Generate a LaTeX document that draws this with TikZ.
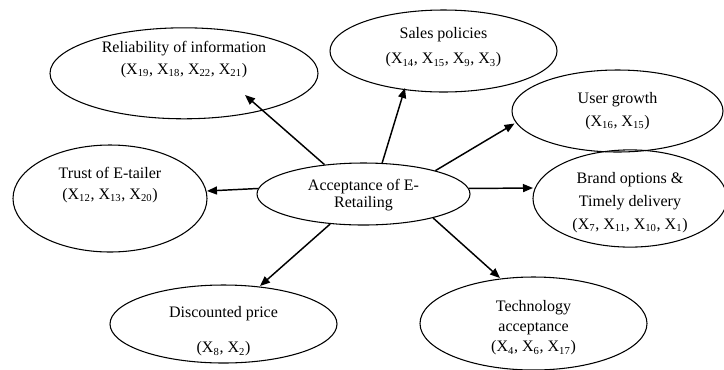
\documentclass[tikz,border=0pt]{standalone}
\usepackage{fontspec}
\setmainfont{Liberation Serif}
\usetikzlibrary{calc,arrows.meta,shapes.geometric}
\newcommand{\Xv}[1]{X\textsubscript{#1}}
\tikzset{
  factor/.style={ellipse, draw, line width=0.8pt, inner sep=0pt,
                 align=center, font=\fontsize{12}{17.5}\selectfont},
  baselines/.style={font=\fontsize{12}{#1}\selectfont},
  link/.style={-{Triangle[length=7.5pt,width=6pt]}, line width=1.1pt},
}

\begin{document}
\begin{tikzpicture}[x=0.75pt, y=-0.75pt]
\useasboundingbox (0,0) rectangle (724,369);
% the construct in the middle
\node[factor, baselines=12.5pt, minimum width=159.75pt, minimum height=46.5pt,
      text depth=0.5pt]
  (accept) at (363.5,194) {Acceptance of E-\\Retailing};
% the seven factors round it
\node[factor, baselines=16.3pt, minimum width=201pt, minimum height=67.5pt,
      text depth=23.5pt]
  (rel) at (184,73.3) {Reliability of information\\(\Xv{19}, \Xv{18}, \Xv{22}, \Xv{21})};
\node[factor, baselines=18.75pt, minimum width=170.25pt, minimum height=61.5pt,
      text depth=7.9pt]
  (sales) at (443.5,51) {Sales policies\\(\Xv{14}, \Xv{15}, \Xv{9}, \Xv{3})};
\node[factor, baselines=17.5pt, minimum width=158.25pt, minimum height=61.5pt]
  (user) at (617.5,111) {User growth\\(\Xv{16}, \Xv{15})};
\node[factor, baselines=17.25pt, minimum width=145.5pt, minimum height=72.75pt,
      text height=49pt]
  (brand) at (630,198.5) {Brand options \&\\Timely delivery\\(\Xv{7}, \Xv{11}, \Xv{10}, \Xv{1})};
\node[factor, baselines=15.75pt, minimum width=145.5pt, minimum height=80.25pt,
      text depth=23pt]
  (trust) at (110,198.5) {Trust of E-tailer\\(\Xv{12}, \Xv{13}, \Xv{20})};
\node[factor, baselines=26.25pt, minimum width=170.25pt, minimum height=58.5pt,
      text height=45.5pt, inner ysep=-5pt]
  (disc) at (223.5,324) {Discounted price\\(\Xv{8}, \Xv{2})};
\node[factor, baselines=15pt, minimum width=170.25pt, minimum height=69.75pt,
      text height=44.7pt]
  (tech) at (533.5,323.5) {Technology\\acceptance\\(\Xv{4}, \Xv{6}, \Xv{17})};
% arrows out of the middle
\draw[link] (accept.143) -- ($(rel)+(61,21.7)$);
\draw[link] (accept.59)  -- ($(sales)+(-38.5,37)$);
\draw[link] (accept.18)  -- ($(user)+(-103,12.5)$);
\draw[link] (accept.3)   -- ($(brand)+(-97,-10.5)$);
\draw[link] (accept.177) -- ($(trust)+(97,-7.5)$);
\draw[link] (accept.222) -- ($(disc)+(36.5,-38)$);
\draw[link] (accept.-19) -- ($(tech)+(-33.5,-45.5)$);
\end{tikzpicture}
\end{document}
